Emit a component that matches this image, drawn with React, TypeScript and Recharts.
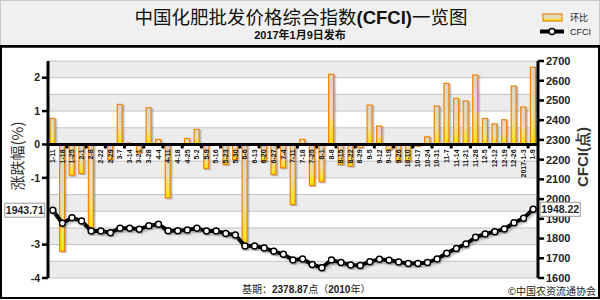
import React from "react";
import {
  ComposedChart,
  Bar,
  Line,
  XAxis,
  YAxis,
  CartesianGrid,
  ReferenceLine,
  LabelList,
  Legend,
} from "recharts";

// weekly release dates (2016-01-11 .. 2017-01-09)
const DATES = [
  "1-11", "1-18", "1-25", "2-1", "2-8", "2-22", "2-29", "3-7", "3-14", "3-21",
  "3-28", "4-4", "4-11", "4-18", "4-25", "5-2", "5-9", "5-16", "5-23", "5-30",
  "6-6", "6-13", "6-20", "6-27", "7-4", "7-11", "7-18", "7-25", "8-1", "8-8",
  "8-15", "8-22", "8-29", "9-5", "9-12", "9-19", "9-26", "10-10", "10-17", "10-24",
  "10-31", "11-7", "11-14", "11-21", "11-28", "12-5", "12-12", "12-19", "12-26", "2017-1-3",
  "1-9",
];

// 环比 (%)
const CHANGE = [
  0.78, -3.2, -0.92, -0.87, -2.62, 0, -0.45, 1.2, 0.04, -0.25,
  1.1, 0.15, -1.6, 0, 0.18, 0.45, -0.72, 0, -0.6, -0.45,
  -3.05, 0, -0.5, -0.9, -0.7, -1.8, 0.15, -1.23, -1.12, 2.1,
  -0.6, -0.65, -0.1, 1.18, 0.55, -0.17, -0.5, -0.5, -0.05, 0.23,
  1.15, 1.83, 1.38, 1.3, 2.08, 0.78, 0.62, 0.74, 1.75, 1.12,
  2.31,
];

// CFCI 指数 (点)
const CFCI = [
  1943.71, 1877, 1906, 1889, 1838, 1838, 1830, 1852, 1852, 1847,
  1865, 1872, 1840, 1840, 1843, 1852, 1838, 1838, 1826, 1818,
  1762, 1762, 1752, 1735, 1720, 1691, 1696, 1669, 1652, 1691,
  1678, 1666, 1663, 1683, 1695, 1690, 1681, 1673, 1674, 1678,
  1696, 1725, 1750, 1772, 1806, 1823, 1835, 1848, 1880, 1903,
  1948.22,
];

const LEFT_TICKS = [-4, -3.5, -3, -2.5, -2, -1.5, -1, -0.5, 0, 0.5, 1, 1.5, 2, 2.5];
const LEFT_LABELS = [2, 1, 0, -1, -3, -4];
const RIGHT_TICKS = [1600, 1700, 1800, 1900, 2000, 2100, 2200, 2300, 2400, 2500, 2600, 2700];

const rows = DATES.map((date, i) => ({ date, change: CHANGE[i], cfci: CFCI[i] }));

const PLOT_W = 490;
const BAND = PLOT_W / DATES.length;
const NUM_FONT = "Arial, 'Liberation Sans', sans-serif";
const CJK_FONT = "'Noto Sans CJK SC', sans-serif";
const MIX_FONT = "'Liberation Sans', 'Noto Sans CJK SC', sans-serif";

function LeftTick(props: any) {
  const { x, y, payload } = props;
  if (!LEFT_LABELS.includes(payload.value)) return null;
  return (
    <g>
      <line x1={x + 2} x2={x + 8} y1={y} y2={y} stroke="#000" strokeWidth={2.5} />
      <text x={x} y={y} dy="0.35em" textAnchor="end" fontSize={10.5} fontWeight="bold" fontFamily={NUM_FONT} fill="#222">
        {payload.value}
      </text>
    </g>
  );
}

// category labels sit on the zero line, rotated
function CategoryLabel(props: any) {
  const vb = props.viewBox || props;
  const { x, y, width, height } = vb;
  const i = props.index;
  const v = CHANGE[i];
  const zero = v >= 0 ? Math.max(y, y + height) : Math.min(y, y + height);
  const cx = x + width / 2;
  return (
    <g>
      {i % 2 === 1 && i < DATES.length - 1 && (
        <rect x={cx + BAND / 2 - 1.5} y={zero} width={3} height={4} fill="#000" />
      )}
      <text
        transform={`translate(${cx + 2.5},${zero + 5}) rotate(-90)`}
        textAnchor="end"
        fontSize={7}
        fontWeight="bold"
        fontFamily={NUM_FONT}
        fill="#111"
      >
        {DATES[i]}
      </text>
    </g>
  );
}

function EndBox(props: any) {
  const i = props.index;
  if (i !== 0 && i !== CFCI.length - 1) return null;
  const vb = props.viewBox || props;
  const { x, y } = vb;
  const w = 40;
  const h = 14;
  const left = i === 0 ? x - 48 : x + 7;
  return (
    <g>
      <rect x={left} y={y - h / 2} width={w} height={h} fill="#fff" stroke="#999" strokeWidth={1} />
      <text x={left + w / 2} y={y} dy="0.36em" textAnchor="middle" fontSize={10.5} fontWeight="bold" fontFamily={NUM_FONT} fill="#222">
        {CFCI[i].toFixed(2)}
      </text>
    </g>
  );
}

function BarShape(props: any) {
  let { x, y, width, height } = props;
  if (height < 0) {
    y += height;
    height = -height;
  }
  if (!height) return null;
  return (
    <rect x={x} y={y} width={width} height={height} fill="url(#barFill)" stroke="#f08400" strokeWidth={1.2} filter="url(#barShadow)" />
  );
}

function LegendBox() {
  return (
    <svg width={62} height={34}>
      <rect x={5} y={7} width={19} height={7} fill="url(#barFill)" stroke="#f08400" strokeWidth={1.2} />
      <text x={32} y={14} fontSize={9} fontFamily={CJK_FONT} fill="#222">环比</text>
      <line x1={2} x2={26} y1={24.5} y2={24.5} stroke="#000" strokeWidth={4} />
      <circle cx={14} cy={24.5} r={3} fill="#fff" stroke="#000" strokeWidth={1.5} />
      <text x={32} y={27.5} fontSize={9} fontFamily={NUM_FONT} fill="#222">CFCI</text>
    </svg>
  );
}

export default function App() {
  return (
    <div style={{ position: "absolute", left: 0, top: 0, width: 600, height: 300 }}>
      <svg width={600} height={300} style={{ position: "absolute", left: 0, top: 0 }}>
        <defs>
          <linearGradient id="barFill" x1="0" y1="0" x2="0" y2="1">
            <stop offset="0%" stopColor="#d8d3cc" />
            <stop offset="55%" stopColor="#e9ddb4" />
            <stop offset="100%" stopColor="#ffe200" />
          </linearGradient>
          <filter id="barShadow" x="-50%" y="-10%" width="200%" height="120%">
            <feDropShadow dx="1.5" dy="1" stdDeviation="0.6" floodColor="#777" floodOpacity="0.5" />
          </filter>
          <filter id="lineShadow" x="-5%" y="-20%" width="110%" height="140%">
            <feDropShadow dx="1.5" dy="2" stdDeviation="1" floodColor="#666" floodOpacity="0.45" />
          </filter>
        </defs>
        <rect x={0.5} y={0.5} width={599} height={45} fill="#f0f0f0" stroke="#c8c8c8" />
        <rect x={1} y={46} width={598} height={252} fill="#fff" stroke="#000" strokeWidth={2} />
        <line x1={0} x2={600} y1={46.5} y2={46.5} stroke="#000" strokeWidth={2.5} />
        <text x={301} y={23.5} textAnchor="middle" fontSize={18.5} fontFamily={MIX_FONT} fill="#111">
          中国化肥批发价格综合指数
          <tspan fontWeight="bold">(CFCI)</tspan>
          一览图
        </text>
        <text x={300} y={38.5} textAnchor="middle" fontSize={11} fontWeight="bold" fontFamily={MIX_FONT} fill="#111">
          2017年1月9日发布
        </text>
        <text x={242} y={293} fontSize={10} fontFamily={CJK_FONT} fill="#222">
          基期：<tspan fontFamily={NUM_FONT} fontWeight="bold">2378.87</tspan>点（<tspan fontFamily={NUM_FONT} fontWeight="bold">2010</tspan>年）
        </text>
        <text x={596} y={295} textAnchor="end" fontSize={10} fontFamily={CJK_FONT} fill="#222">
          ©中国农资流通协会
        </text>
      </svg>
      <div style={{ position: "absolute", left: 0, top: 0 }}>
        <ComposedChart width={600} height={300} data={rows} margin={{ top: 61, right: 0, bottom: 22, left: 0 }}>
          <CartesianGrid
            yAxisId="left"
            vertical={false}
            stroke="#c4c4c4"
            horizontalFill={["#ececec", "#ffffff"]}
          />
          <XAxis dataKey="date" hide />
          <YAxis
            yAxisId="left"
            width={48}
            domain={[-4, 2.5]}
            ticks={LEFT_TICKS}
            interval={0}
            axisLine={{ stroke: "#000", strokeWidth: 3 }}
            tickLine={false}
            tickSize={0}
            tickMargin={8}
            tick={<LeftTick />}
            label={{
              value: "涨跌幅(%)",
              content: (p: any) => (
                <text
                  transform={`translate(${p.viewBox.x + 18},${p.viewBox.y + 95}) rotate(-90)`}
                  textAnchor="middle"
                  dy="0.35em"
                  fontSize={15}
                  fontFamily={CJK_FONT}
                  fill="#333"
                >
                  涨跌幅(%)
                </text>
              ),
            }}
          />
          <YAxis
            yAxisId="right"
            orientation="right"
            width={62}
            domain={[1600, 2700]}
            ticks={RIGHT_TICKS}
            interval={0}
            axisLine={{ stroke: "#000", strokeWidth: 3 }}
            tickLine={{ stroke: "#000", strokeWidth: 2.5 }}
            tickSize={6}
            tickMargin={2}
            tick={{ fontSize: 11, fontWeight: "bold", fontFamily: NUM_FONT, fill: "#222" }}
            label={{
              value: "CFCI(点)",
              content: (p: any) => (
                <text
                  transform={`translate(${p.viewBox.x + 45},${p.viewBox.y + 96}) rotate(-90)`}
                  textAnchor="middle"
                  dy="0.35em"
                  fontSize={15}
                  fontWeight="bold"
                  fontFamily={NUM_FONT}
                  fill="#333"
                >
                  CFCI(点)
                </text>
              ),
            }}
          />
          <Bar yAxisId="left" dataKey="change" name="环比" barSize={5} shape={<BarShape />} isAnimationActive={false}>
            <LabelList dataKey="change" content={<CategoryLabel />} />
          </Bar>
          <ReferenceLine yAxisId="left" y={0} stroke="#000" strokeWidth={3} />
          <Line
            yAxisId="right"
            dataKey="cfci"
            name="CFCI"
            stroke="#000"
            strokeWidth={4}
            filter="url(#lineShadow)"
            dot={{ r: 3, fill: "#fff", stroke: "#000", strokeWidth: 1.5 }}
            isAnimationActive={false}
          >
            <LabelList dataKey="cfci" content={<EndBox />} />
          </Line>
          <Legend
            layout="vertical"
            align="center"
            verticalAlign="middle"
            content={<LegendBox />}
            wrapperStyle={{ position: "absolute", left: 538, top: 7, width: 62, height: 34 }}
          />
        </ComposedChart>
      </div>
    </div>
  );
}
